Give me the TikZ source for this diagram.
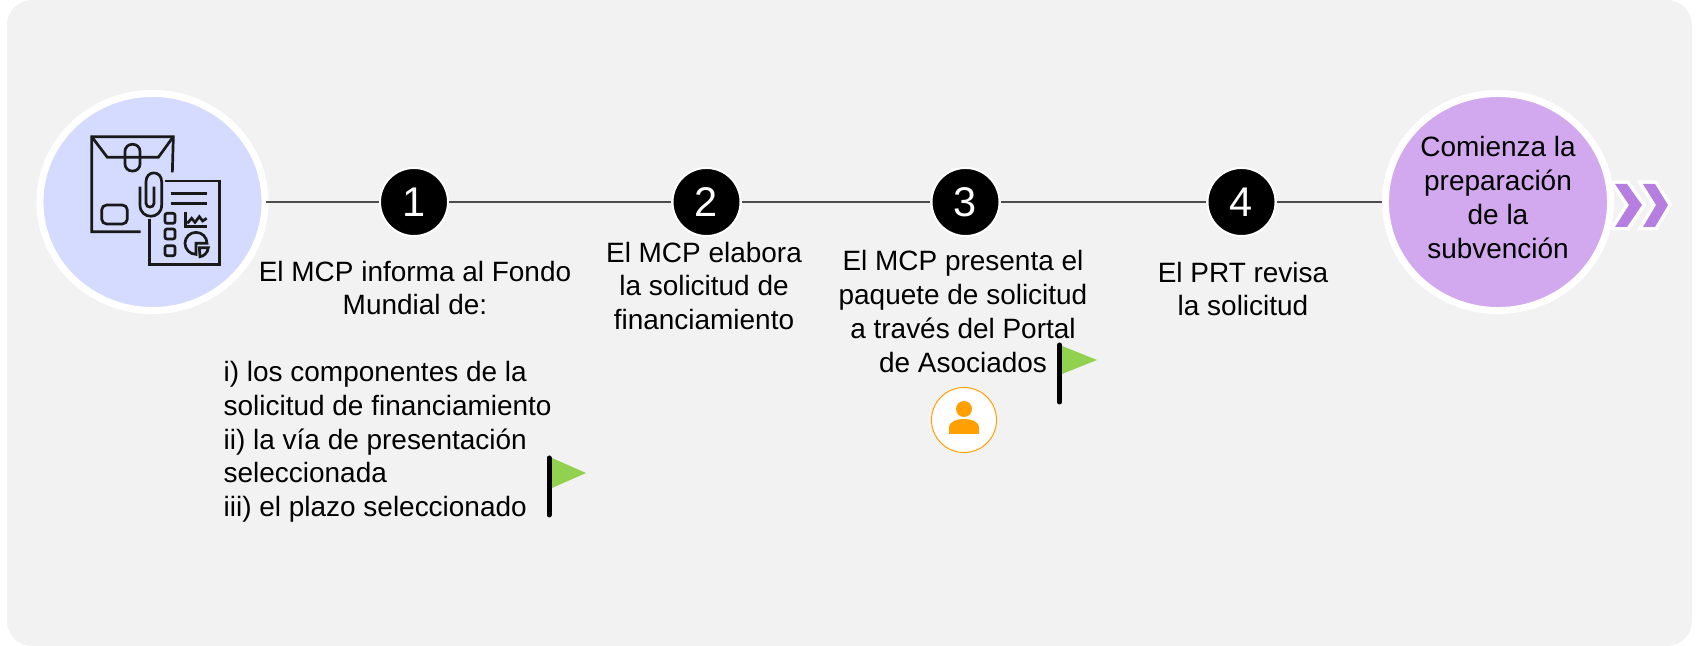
\documentclass[tikz,border=0pt]{standalone}
\usepackage{fontspec}
\setmainfont{Liberation Sans}
\usetikzlibrary{shapes.geometric}

\definecolor{panelgray}{HTML}{F2F2F2}
\definecolor{startblue}{HTML}{D4DBFF}
\definecolor{endpurple}{HTML}{D2A9EE}
\definecolor{chevpurple}{HTML}{B77EE2}
\definecolor{flaggreen}{HTML}{92D050}
\definecolor{personorange}{HTML}{FF9F00}

\tikzset{
  every node/.style={font=\fontsize{7.95}{9.6}\selectfont},
  panel/.style={fill=panelgray,rounded corners=0.25cm},
  bigcircle/.style={ellipse,draw=white,line width=0.07cm,inner sep=0,minimum width=2.25cm,minimum height=2.17cm},
  stepnum/.style={circle,fill=black,draw=white,line width=0.02cm,text=white,inner sep=0,minimum size=0.68cm,font=\fontsize{11.8}{13}\selectfont},
  steptext/.style={align=center,inner sep=0},
  timeline/.style={line width=0.013cm,draw=black!70},
  flagpole/.style={line width=0.05cm,line cap=round},
  flagcloth/.style={fill=flaggreen},
  chevron/.style={fill=chevpurple,preaction={draw=white,line width=0.07cm}},
  iconline/.style={line width=0.027cm,draw=black!90,line join=miter}
}

\begin{document}
\begin{tikzpicture}[x=0.01cm,y=-0.01cm]
  \useasboundingbox (0,0) rectangle (1699,646);
  \fill[panel] (7,0) rectangle (1692,646);

  % chevrons
  \path[chevron] (1615,184) -- (1627,184) -- (1642,205) -- (1627,227) -- (1615,227) -- (1629,205) -- cycle;
  \path[chevron] (1643,184) -- (1655,184) -- (1668,205) -- (1655,227) -- (1643,227) -- (1656,205) -- cycle;

  % start and end
  \node[bigcircle,fill=startblue] (start) at (152.5,202) {};
  \node[bigcircle,fill=endpurple] (finish) at (1498,202) {};
  \node[steptext] (finishtext) at (1498,197.5) {Comienza la\\preparación\\de la\\subvención};

  % steps
  \node[stepnum] (N1) at (414,202) {1};
  \node[stepnum] (N2) at (706.5,202) {2};
  \node[stepnum] (N3) at (965.5,202) {3};
  \node[stepnum] (N4) at (1241.5,202) {4};
  \draw[timeline,shorten <=-0.03cm] (start) -- (N1);
  \draw[timeline] (N1) -- (N2) -- (N3) -- (N4) -- (finish);

  % texts
  \node[steptext] (T1) at (415,288) {El MCP informa al Fondo\\Mundial de:};
  \node[steptext,align=left,anchor=west] (T1b) at (223,442) {i) los componentes de la\\solicitud de financiamiento\\ii) la vía de presentación\\seleccionada\\iii) el plazo seleccionado};
  \node[steptext] (T2) at (704,286) {El MCP elabora\\la solicitud de\\financiamiento};
  \node[steptext] (T3) at (963,311.5) {El MCP presenta el\\paquete de solicitud\\a través del Portal\\de Asociados};
  \node[steptext] (T4) at (1243,289) {El PRT revisa\\la solicitud};

  % flags
  \fill[flagcloth] (552,458) -- (586,473) -- (552,488) -- cycle;
  \draw[flagpole] (549,458) -- (549,515);
  \fill[flagcloth] (1062,346) -- (1097,360) -- (1062,374) -- cycle;
  \draw[flagpole] (1059.5,345) -- (1059.5,402);

  % person
  \node[circle,draw=personorange,fill=white,line width=0.01cm,inner sep=0,minimum size=0.65cm] (person) at (964,420) {};
  \fill[personorange] (964,409) circle[radius=8];
  \fill[personorange] (949,434) -- (949,428) .. controls (949,421) and (957,419) .. (964,419) .. controls (971,419) and (979,421) .. (979,428) -- (979,434) -- cycle;

  % icon
  \begin{scope}[shift={(70,125)},x=0.01cm/3,y=-0.01cm/3]
    \draw[iconline] (212,320) -- (65,320) -- (65,35) -- (310,35) -- (307,142);
    \draw[iconline] (65,35) -- (112,97) -- (265,97) -- (310,35);
    \draw[iconline,rounded corners=0.07cm] (165,58) rectangle (210,138);
    \draw[iconline,rounded corners=0.05cm] (95,240) rectangle (172,297);
    \draw[iconline] (252,185) -- (252,235) .. controls (252,250) and (228,250) .. (228,235) -- (228,170) .. controls (228,135) and (275,135) .. (275,170) -- (275,240) .. controls (275,285) and (210,285) .. (210,240) -- (210,185);
    \draw[iconline] (285,168) -- (448,168) -- (448,418) -- (238,418) -- (238,282);
    \draw[iconline] (302,205) -- (412,205);
    \draw[iconline] (302,235) -- (412,235);
    \draw[iconline,rounded corners=0.02cm] (285,265) rectangle (315,295);
    \draw[iconline,rounded corners=0.02cm] (285,312) rectangle (315,342);
    \draw[iconline,rounded corners=0.02cm] (285,362) rectangle (315,392);
    \draw[iconline] (347,262) -- (347,305) -- (410,305);
    \draw[iconline] (352,295) -- (365,280) -- (375,292) -- (388,275) -- (398,288) -- (410,280);
    \draw[iconline] (378,388) arc[start angle=90,end angle=360,radius=33] -- (378,355) -- cycle;
    \draw[iconline] (388,368) -- (415,368) .. controls (413,385) and (400,394) .. (390,395) -- cycle;
  \end{scope}
\end{tikzpicture}
\end{document}
